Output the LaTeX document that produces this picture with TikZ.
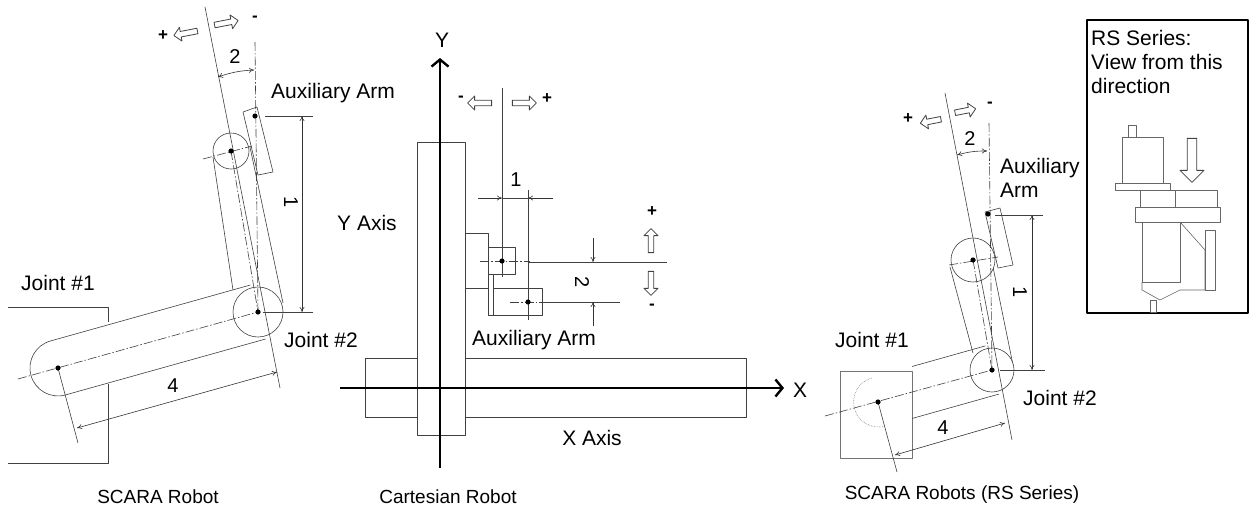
\documentclass[tikz,border=0pt]{standalone}
\usepackage{fontspec}
\setmainfont{Liberation Sans}
\usetikzlibrary{shapes.arrows,arrows.meta}
\begin{document}
\begin{tikzpicture}[x=1pt,y=-1pt,line join=round]
    % Define styles
    \tikzset{
        thinline/.style={draw=black!75, line width=0.6pt},
        centerline/.style={draw=black!75, line width=0.6pt,
            dash pattern=on 9pt off 2pt on 1.5pt off 2pt},
        dim/.style={draw=black!80, line width=0.6pt, {To[length=5pt,width=5pt]}-{To[length=5pt,width=5pt]}},
        dimhalf/.style={draw=black!80, line width=0.6pt, -{To[length=5pt,width=5pt]}},
        axis/.style={draw=black, line width=2pt, -{Straight Barb[length=7pt,width=17pt,line width=2.4pt]}},
        hollow/.style={single arrow, draw=black!75, line width=0.8pt, minimum height=24pt,
            minimum width=14pt, single arrow head extend=3pt, inner sep=1pt,
            shape border uses incircle},
        label/.style={font=\fontsize{21}{24}\selectfont, inner sep=0pt},
        caption/.style={font=\fontsize{19}{21}\selectfont, inner sep=0pt},
        sign/.style={font=\fontsize{17}{18}\selectfont\bfseries, inner sep=0pt},
        dimlabel/.style={font=\fontsize{20}{20}\selectfont, inner sep=0pt}
    }
    \useasboundingbox (0,0) rectangle (1253,517);

    % ---------------- SCARA Robot ----------------
    \coordinate (ja) at (58,368);
    \coordinate (jb) at (258,312);
    \coordinate (jc) at (231,151);
    \coordinate (aux) at (255,116);
    % base
    \draw[thinline] (8,307) -- (108,307) -- (108,322);
    \draw[thinline] (108,384) -- (108,463) -- (8,463);
    % links
    \draw[thinline, fill=white] (250.4,285) -- (50.4,341) arc[start angle=254.3, end angle=74.3, radius=28] -- (265.6,339);
    \draw[thinline] (213,157) -- (233,290);
    \draw[thinline] (250,147) -- (283,303);
    \draw[thinline, fill=white] (jb) circle (25);
    \draw[thinline, fill=white] (jc) circle (18);
    \draw[thinline, fill=white] (243,112) -- (257,107) -- (273,172) -- (258,175) -- cycle;
    % center lines
    \draw[thinline] (205,7) -- (280,388);
    \draw[centerline] (18,379) -- (jb);
    \draw[centerline] (jc) -- (jb);
    \draw[centerline] (203,159) -- (252,146);
    \draw[centerline] (255,42) -- (jb);
    \draw[thinline] (ja) -- (78,443);
    \draw[thinline] (265,116) -- (313,116);
    \draw[thinline] (263,312) -- (313,312);
    \foreach \p in {ja,jb,jc,aux} \fill (\p) circle (2.6);
    % dimensions
    \draw[dim] (302,116) -- (302,312);
    \node[dimlabel, rotate=-90] (da1) at (291,202) {1};
    \draw[dim] (218,77) to[bend left=8] (254,70);
    \node[dimlabel] (da2) at (235,57) {2};
    \draw[dim] (77,428) -- (277,372);
    \node[dimlabel] (da4) at (173,386) {4};
    \node[hollow, shape border rotate=191] (ma) at (187,33) {};
    \node[hollow, shape border rotate=11] (mb) at (225,23) {};
    \node[sign] (pa) at (163,36) {+};
    \node[sign] (na) at (255,19) {-};
    \node[label, anchor=west] (lj1) at (21,283) {Joint \#1};
    \node[label, anchor=west] (lj2) at (284,340) {Joint \#2};
    \node[label, anchor=west] (laa) at (271,93) {Auxiliary Arm};
    \node[caption] (ts) at (158,497) {SCARA Robot};

    % ---------------- Cartesian Robot ----------------
    \draw[thinline, fill=white] (365,358) rectangle (746,417);
    \draw[thinline, fill=white] (417,142) rectangle (465,435);
    \draw[axis] (440,468) -- (440,58);
    \draw[axis] (340,388) -- (784,388);
    \node[label] (ly) at (442,40) {Y};
    \node[label] (lx) at (800,390) {X};
    % auxiliary arm
    \draw[thinline] (465,233) -- (488,233) -- (488,315) -- (542,315) -- (542,288) -- (493,288);
    \draw[thinline] (465,288) -- (488,288);
    \draw[thinline] (493,274) -- (493,315);
    \draw[thinline] (488,247) rectangle (515,274);
    \coordinate (ca) at (502,261);
    \coordinate (cb) at (528,302);
    \draw[thinline] (502,88) -- (502,277);
    \draw[thinline] (528,190) -- (528,320);
    \draw[thinline] (528,262) -- (667,262);
    \draw[thinline] (542,302) -- (620,302);
    \draw[centerline] (480,261) -- (530,261);
    \draw[centerline] (510,302) -- (550,302);
    \foreach \p in {ca,cb} \fill (\p) circle (2.6);
    \draw[dimhalf] (478,198) -- (502,198);
    \draw[dimhalf] (553,198) -- (528,198);
    \draw[thinline] (502,198) -- (528,198);
    \node[dimlabel] (dc1) at (516,180) {1};
    \draw[dimhalf] (593,238) -- (593,262);
    \draw[dimhalf] (593,326) -- (593,302);
    \node[dimlabel, rotate=-90] (dc2) at (582,282) {2};
    \node[hollow, shape border rotate=180] (mc) at (481,103) {};
    \node[hollow] (md) at (523,103) {};
    \node[sign] (nc) at (461,99) {-};
    \node[sign] (pc) at (547,99) {+};
    \node[hollow, shape border rotate=90] (me) at (651,242) {};
    \node[hollow, shape border rotate=270] (mf) at (651,282) {};
    \node[sign] (pe) at (652,212) {+};
    \node[sign] (ne) at (652,307) {-};
    \node[label, anchor=west] (lya) at (337,223) {Y Axis};
    \node[label, anchor=west] (lca) at (472,340) {Auxiliary Arm};
    \node[label] (lxa) at (592,438) {X Axis};
    \node[caption] (tc) at (448,497) {Cartesian Robot};

    % ---------------- SCARA Robots (RS Series) ----------------
    \coordinate (ra) at (878,402);
    \coordinate (rb) at (992,370);
    \coordinate (rc) at (973,260);
    \coordinate (raux) at (988,214);
    \draw[thinline, draw=black!55] (840,371) rectangle (912,458);
    \draw[thinline, densely dotted, draw=black!50] (871.8,378) arc[start angle=254.3, end angle=74.3, radius=25];
    \draw[thinline] (912,366.5) -- (985.3,345.9);
    \draw[thinline] (912,418.5) -- (998.8,394.1);
    \draw[thinline] (950,267) -- (973,353);
    \draw[thinline] (993,267) -- (1013,365);
    \draw[thinline, fill=white] (rb) circle (22);
    \draw[thinline, fill=white] (rc) circle (22);
    \draw[thinline, fill=white] (985,212) -- (1000,208) -- (1013,265) -- (998,268) -- cycle;
    \draw[thinline] (945,93) -- (1012,440);
    \draw[centerline] (825,416) -- (rb);
    \draw[centerline] (rc) -- (rb);
    \draw[centerline] (949,265) -- (998,257);
    \draw[centerline] (989,123) -- (rb);
    \draw[thinline] (ra) -- (897,472);
    \draw[thinline] (995,215) -- (1043,215);
    \draw[thinline] (1000,370) -- (1045,370);
    \foreach \p in {ra,rb,rc,raux} \fill (\p) circle (2.6);
    \draw[dim] (1032,215) -- (1032,370);
    \node[dimlabel, rotate=-90] (dr1) at (1020,292) {1};
    \draw[dim] (957,155) to[bend left=8] (987,151);
    \node[dimlabel] (dr2) at (970,139) {2};
    \draw[dim] (895,455) -- (1005,423);
    \node[dimlabel] (dr4) at (943,428) {4};
    \node[hollow, shape border rotate=191, minimum height=21pt] (mg) at (932,121) {};
    \node[hollow, shape border rotate=11, minimum height=21pt] (mh) at (964,111) {};
    \node[sign] (pg) at (908,119) {+};
    \node[sign] (ng) at (990,105) {-};
    \node[label, anchor=west] (lrj1) at (835,340) {Joint \#1};
    \node[label, anchor=west] (lrj2) at (1023,398) {Joint \#2};
    \node[label, anchor=west, align=left] (lra) at (1000,178) {Auxiliary\\Arm};
    \node[caption] (tr) at (962,495) {SCARA Robots (RS Series)};

    % inset
    \draw[line width=1.4pt] (1087,20) rectangle (1248,313);
    \node[label, anchor=north west, align=left] (lin) at (1091,30) {RS Series:\\View from this\\direction};
    \begin{scope}[draw=black!60, line width=0.6pt]
        \draw (1128,125) rectangle (1136,137);
        \draw (1122,137) rectangle (1163,183);
        \draw (1115,183) rectangle (1170,190);
        \draw (1140,190) rectangle (1175,207);
        \draw (1175,190) rectangle (1217,207);
        \draw (1135,207) rectangle (1220,222);
        \draw (1142,222) rectangle (1180,282);
        \draw (1180,222) -- (1205,250) -- (1205,290) -- (1180,290);
        \draw (1205,230) rectangle (1215,290);
        \draw (1142,282) -- (1142,290) -- (1160,300) -- (1180,290);
        \draw (1150,300) rectangle (1156,312);
    \end{scope}
    \node[hollow, shape border rotate=270, minimum height=44pt, minimum width=24pt] (mi) at (1192,158) {};
\end{tikzpicture}
\end{document}
